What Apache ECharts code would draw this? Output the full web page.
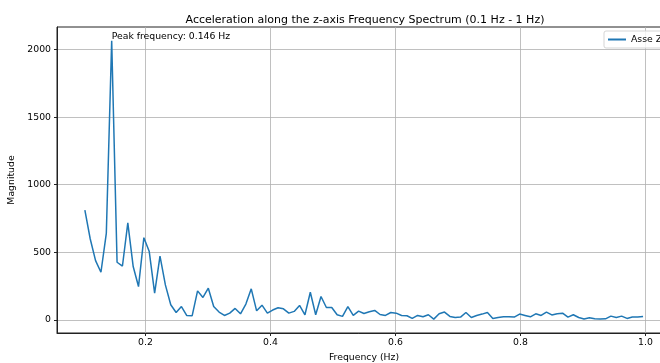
<!DOCTYPE html>
<html>
<head>
<meta charset="utf-8">
<script src="https://cdn.jsdelivr.net/npm/echarts@6/dist/echarts.min.js"></script>
<style>
  html, body { margin: 0; padding: 0; background: #fff; }
  #chart { width: 660px; height: 363px; }
</style>
</head>
<body>
<div id="chart"></div>
<script>
// FFT bins between 0.1 Hz and 1 Hz (Hz)
const frequencies = [
  0.1031, 0.1116, 0.1202, 0.1288, 0.1374, 0.1460, 0.1546, 0.1632, 0.1718, 0.1804,
  0.1889, 0.1975, 0.2061, 0.2147, 0.2233, 0.2319, 0.2405, 0.2491, 0.2576, 0.2662,
  0.2748, 0.2834, 0.2920, 0.3006, 0.3092, 0.3178, 0.3264, 0.3349, 0.3435, 0.3521,
  0.3607, 0.3693, 0.3779, 0.3865, 0.3951, 0.4036, 0.4122, 0.4208, 0.4294, 0.4380,
  0.4466, 0.4552, 0.4638, 0.4724, 0.4809, 0.4895, 0.4981, 0.5067, 0.5153, 0.5239,
  0.5325, 0.5411, 0.5496, 0.5582, 0.5668, 0.5754, 0.5840, 0.5926, 0.6012, 0.6098,
  0.6184, 0.6269, 0.6355, 0.6441, 0.6527, 0.6613, 0.6699, 0.6785, 0.6871, 0.6956,
  0.7042, 0.7128, 0.7214, 0.7300, 0.7386, 0.7472, 0.7558, 0.7643, 0.7729, 0.7815,
  0.7901, 0.7987, 0.8073, 0.8159, 0.8245, 0.8331, 0.8416, 0.8502, 0.8588, 0.8674,
  0.8760, 0.8846, 0.8932, 0.9018, 0.9103, 0.9189, 0.9275, 0.9361, 0.9447, 0.9533,
  0.9619, 0.9705, 0.9790, 0.9876, 0.9962
];

// Spectrum magnitude of the z-axis acceleration at each bin
const magnitudes = [
  812, 600, 438, 352, 640, 2066, 426, 398, 718, 394,
  246, 608, 505, 197, 472, 258, 111, 54, 98, 31,
  30, 214, 165, 234, 98, 57, 32, 49, 84, 44,
  116, 229, 66, 108, 49, 72, 89, 81, 49, 62,
  106, 37, 204, 37, 172, 91, 91, 37, 25, 98,
  32, 64, 46, 59, 69, 39, 32, 54, 49, 32,
  30, 10, 32, 22, 37, 5, 44, 57, 25, 17,
  20, 54, 17, 32, 42, 54, 10, 17, 22, 22,
  20, 42, 32, 22, 44, 32, 57, 36, 44, 49,
  20, 37, 17, 5, 15, 7, 5, 7, 27, 17,
  27, 10, 20, 20, 25
];

const seriesName = 'Asse Z';
const peakFrequency = 0.146;
const xTicks = [0.2, 0.4, 0.6, 0.8, 1.0];
const yTicks = [0, 500, 1000, 1500, 2000];

const FONT = 'DejaVu Sans';
const SMALL = 9.3;
const data = frequencies.map((f, i) => [f, magnitudes[i]]);

// locate the strongest bin for the annotation
let peakIdx = 0;
magnitudes.forEach((m, i) => { if (m > magnitudes[peakIdx]) peakIdx = i; });

const chart = echarts.init(document.getElementById('chart'), null, { renderer: 'canvas' });

chart.setOption({
  animation: false,
  backgroundColor: '#ffffff',
  title: {
    text: 'Acceleration along the z-axis Frequency Spectrum (0.1 Hz - 1 Hz)',
    left: 360,
    top: 10,
    textAlign: 'center',
    textStyle: { fontFamily: FONT, fontSize: 11, fontWeight: 'normal', color: '#000' }
  },
  legend: {
    data: [seriesName],
    left: 604,
    top: 31,
    orient: 'vertical',
    padding: [4, 6, 4, 4],
    itemWidth: 18,
    itemHeight: 2,
    icon: 'rect',
    borderColor: '#d5d5d5',
    borderWidth: 1,
    borderRadius: 2,
    backgroundColor: 'rgba(255,255,255,0.8)',
    textStyle: {
      fontFamily: FONT, fontSize: SMALL, color: '#000',
      width: 40, overflow: 'none'
    }
  },
  grid: {
    left: 57,
    top: 27,
    width: 614,
    bottom: 30,
    outerBoundsMode: 'none',
    containLabel: false,
    show: true,
    borderColor: '#222',
    borderWidth: 1,
    backgroundColor: 'transparent'
  },
  xAxis: {
    type: 'value',
    min: 0.0585,
    max: 1.0409,
    name: 'Frequency (Hz)',
    nameLocation: 'middle',
    nameGap: 20,
    nameTextStyle: { fontFamily: FONT, fontSize: SMALL, color: '#000' },
    axisLine: { show: true, onZero: false, lineStyle: { color: '#222', width: 1 } },
    axisTick: { show: true, inside: false, length: 3, customValues: xTicks, lineStyle: { color: '#222' } },
    axisLabel: {
      customValues: xTicks,
      margin: 5,
      fontFamily: FONT, fontSize: SMALL, color: '#000',
      formatter: v => v.toFixed(1)
    },
    splitLine: { show: true, lineStyle: { color: '#b0b0b0', width: 0.8 } }
  },
  yAxis: {
    type: 'value',
    min: -98,
    max: 2168,
    name: 'Magnitude',
    nameLocation: 'middle',
    nameGap: 35,
    nameRotate: 90,
    nameTextStyle: { fontFamily: FONT, fontSize: SMALL, color: '#000' },
    axisLine: { show: true, onZero: false, lineStyle: { color: '#222', width: 1 } },
    axisTick: { show: true, inside: false, length: 3, customValues: yTicks, lineStyle: { color: '#222' } },
    axisLabel: {
      customValues: yTicks,
      margin: 6,
      fontFamily: FONT, fontSize: SMALL, color: '#000',
      formatter: v => String(Math.round(v))
    },
    splitLine: { show: true, lineStyle: { color: '#b0b0b0', width: 0.8 } }
  },
  series: [{
    name: seriesName,
    type: 'line',
    data: data,
    symbol: 'none',
    lineStyle: { color: '#1f77b4', width: 1.5 },
    itemStyle: { color: '#1f77b4' },
    markPoint: {
      silent: true,
      symbol: 'circle',
      symbolSize: 0,
      data: [{ coord: [frequencies[peakIdx], magnitudes[peakIdx]] }],
      label: {
        show: true,
        position: 'inside',
        align: 'left',
        verticalAlign: 'bottom',
        offset: [0, 0],
        formatter: 'Peak frequency: ' + peakFrequency.toFixed(3) + ' Hz',
        fontFamily: FONT, fontSize: SMALL, color: '#000'
      }
    }
  }]
});
</script>
</body>
</html>
